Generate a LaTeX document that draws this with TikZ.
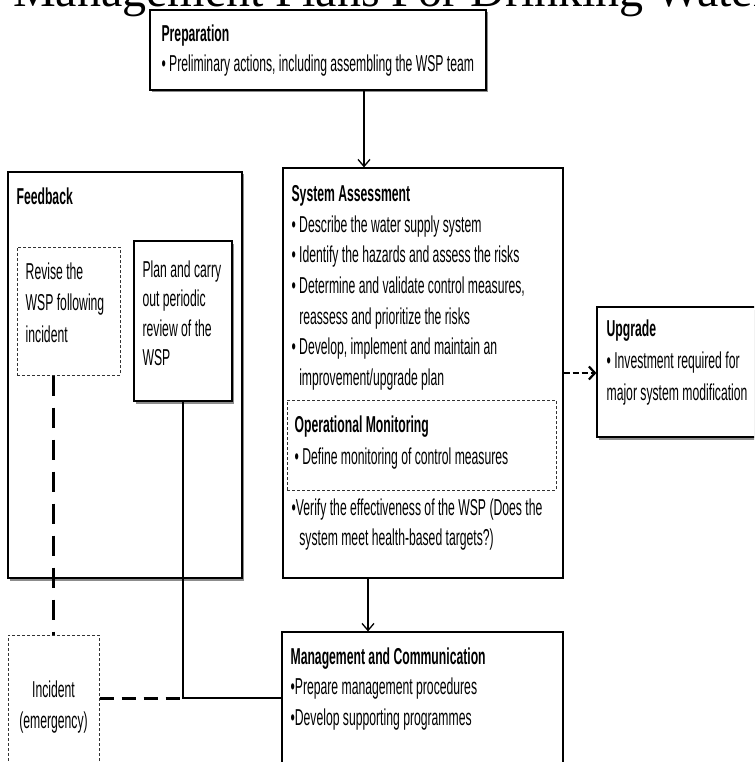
\documentclass[tikz,border=0pt]{standalone}
\usepackage{fontspec}
\setmainfont{Liberation Sans}[FakeStretch=0.53]
\newfontfamily\titlefont{Liberation Serif}
\usetikzlibrary{arrows.meta, positioning, calc, shadows}

\begin{document}
\begin{tikzpicture}[x=1pt, y=-1pt,
  frame/.style={draw, line width=1.2pt, fill=white, inner sep=0pt},
  shadebox/.style={frame, drop shadow={shadow xshift=1.5pt, shadow yshift=-2.5pt, fill=black!45, opacity=1}},
  dashframe/.style={draw=black!80, densely dashed, line width=1pt, inner sep=0pt},
  txt/.style={anchor=north west, inner sep=0pt, align=left, font=\fontsize{23}{30.6}\selectfont},
  arr/.style={-{Straight Barb[length=7pt, width=12pt]}, line width=1.3pt},
  dasharr/.style={-{Straight Barb[length=6pt, width=13pt]}, line width=2.2pt, dash pattern=on 6pt off 3pt},
  longdash/.style={line width=2.2pt, dash pattern=on 20pt off 12pt},
  thickdash/.style={line width=3pt, dash pattern=on 14pt off 8pt},
  link/.style={line width=1.6pt}
]
  \useasboundingbox (0,0) rectangle (754,762);
  \clip (0,0) rectangle (754,762);

  % title, cut off at the top
  \node[anchor=base west, inner sep=0pt, font=\titlefont\fontsize{48}{48}\selectfont] (title) at (13,7) {Management Plans For Drinking Water};

  % frames
  \node[shadebox, minimum width=336pt, minimum height=80pt] (prep) at (318,50) {};
  \node[shadebox, minimum width=234pt, minimum height=406pt] (feedback) at (125,375) {};
  \node[dashframe, minimum width=103pt, minimum height=128pt] (revise) at (68.5,311) {};
  \node[shadebox, minimum width=98pt, minimum height=160pt] (review) at (183,321) {};
  \node[frame, minimum width=280pt, minimum height=410pt] (system) at (423,373) {};
  \node[dashframe, minimum width=269pt, minimum height=90pt] (opmon) at (421.5,445) {};
  \node[shadebox, minimum width=163pt, minimum height=130pt] (upgrade) at (678.5,372) {};
  \node[frame, minimum width=281pt, minimum height=148pt] (mgmt) at (422.5,706) {};
  \node[dashframe, minimum width=91pt, minimum height=145pt, align=center,
        font=\fontsize{23}{31}\selectfont] (incident) at (53.5,707.5) {Incident\\(emergency)};

  % texts
  \node[txt] (preptxt) at ([shift={(12,15)}]prep.north west)
    {\textbf{Preparation}\\• Preliminary actions, including assembling the WSP team};
  \node[txt] (feedbacktxt) at ([shift={(9,16)}]feedback.north west) {\textbf{Feedback}};
  \node[txt, font=\fontsize{23}{31.5}\selectfont] (revisetxt) at ([shift={(9,16)}]revise.north west)
    {Revise the\\WSP following\\incident};
  \node[txt, font=\fontsize{23}{29.5}\selectfont] (reviewtxt) at ([shift={(9,20)}]review.north west)
    {Plan and carry\\out periodic\\review of the\\WSP};
  \node[txt] (systemtxt) at ([shift={(9,18)}]system.north west)
    {\textbf{System Assessment}\\
     • Describe the water supply system\\
     • Identify the hazards and assess the risks\\
     • Determine and validate control measures,\\
     \phantom{• }reassess and prioritize the risks\\
     • Develop, implement and maintain an\\
     \phantom{• }improvement/upgrade plan};
  \node[txt, font=\fontsize{23}{32}\selectfont] (opmontxt) at ([shift={(8,16)}]opmon.north west)
    {\textbf{Operational Monitoring}\\• Define monitoring of control measures};
  \node[txt] (verifytxt) at ([shift={(5,8)}]opmon.south west)
    {•Verify the effectiveness of the WSP (Does the\\\phantom{• }system meet health-based targets?)};
  \node[txt, font=\fontsize{23}{32}\selectfont] (upgradetxt) at ([shift={(10,13)}]upgrade.north west)
    {\textbf{Upgrade}\\• Investment required for\\major system modification};
  \node[txt] (mgmttxt) at ([shift={(9,16)}]mgmt.north west)
    {\textbf{Management and Communication}\\•Prepare management procedures\\•Develop supporting programmes};

  % connectors
  \draw[arr] ([xshift=46pt]prep.south) -- ([xshift=46pt]prep.south |- system.north);
  \draw[arr] ([xshift=-55pt]system.south) -- ([xshift=-55pt]system.south |- mgmt.north);
  \draw[dasharr] (system.east) -- (system.east -| upgrade.west);
  \draw[longdash] (incident.north |- revise.south) -- (incident.north);
  \draw[link] (review.south) |- ([yshift=8pt]mgmt.west);
  \draw[thickdash] ([yshift=9.5pt]incident.east) -- ([yshift=9.5pt]incident.east -| review.south);
\end{tikzpicture}
\end{document}
